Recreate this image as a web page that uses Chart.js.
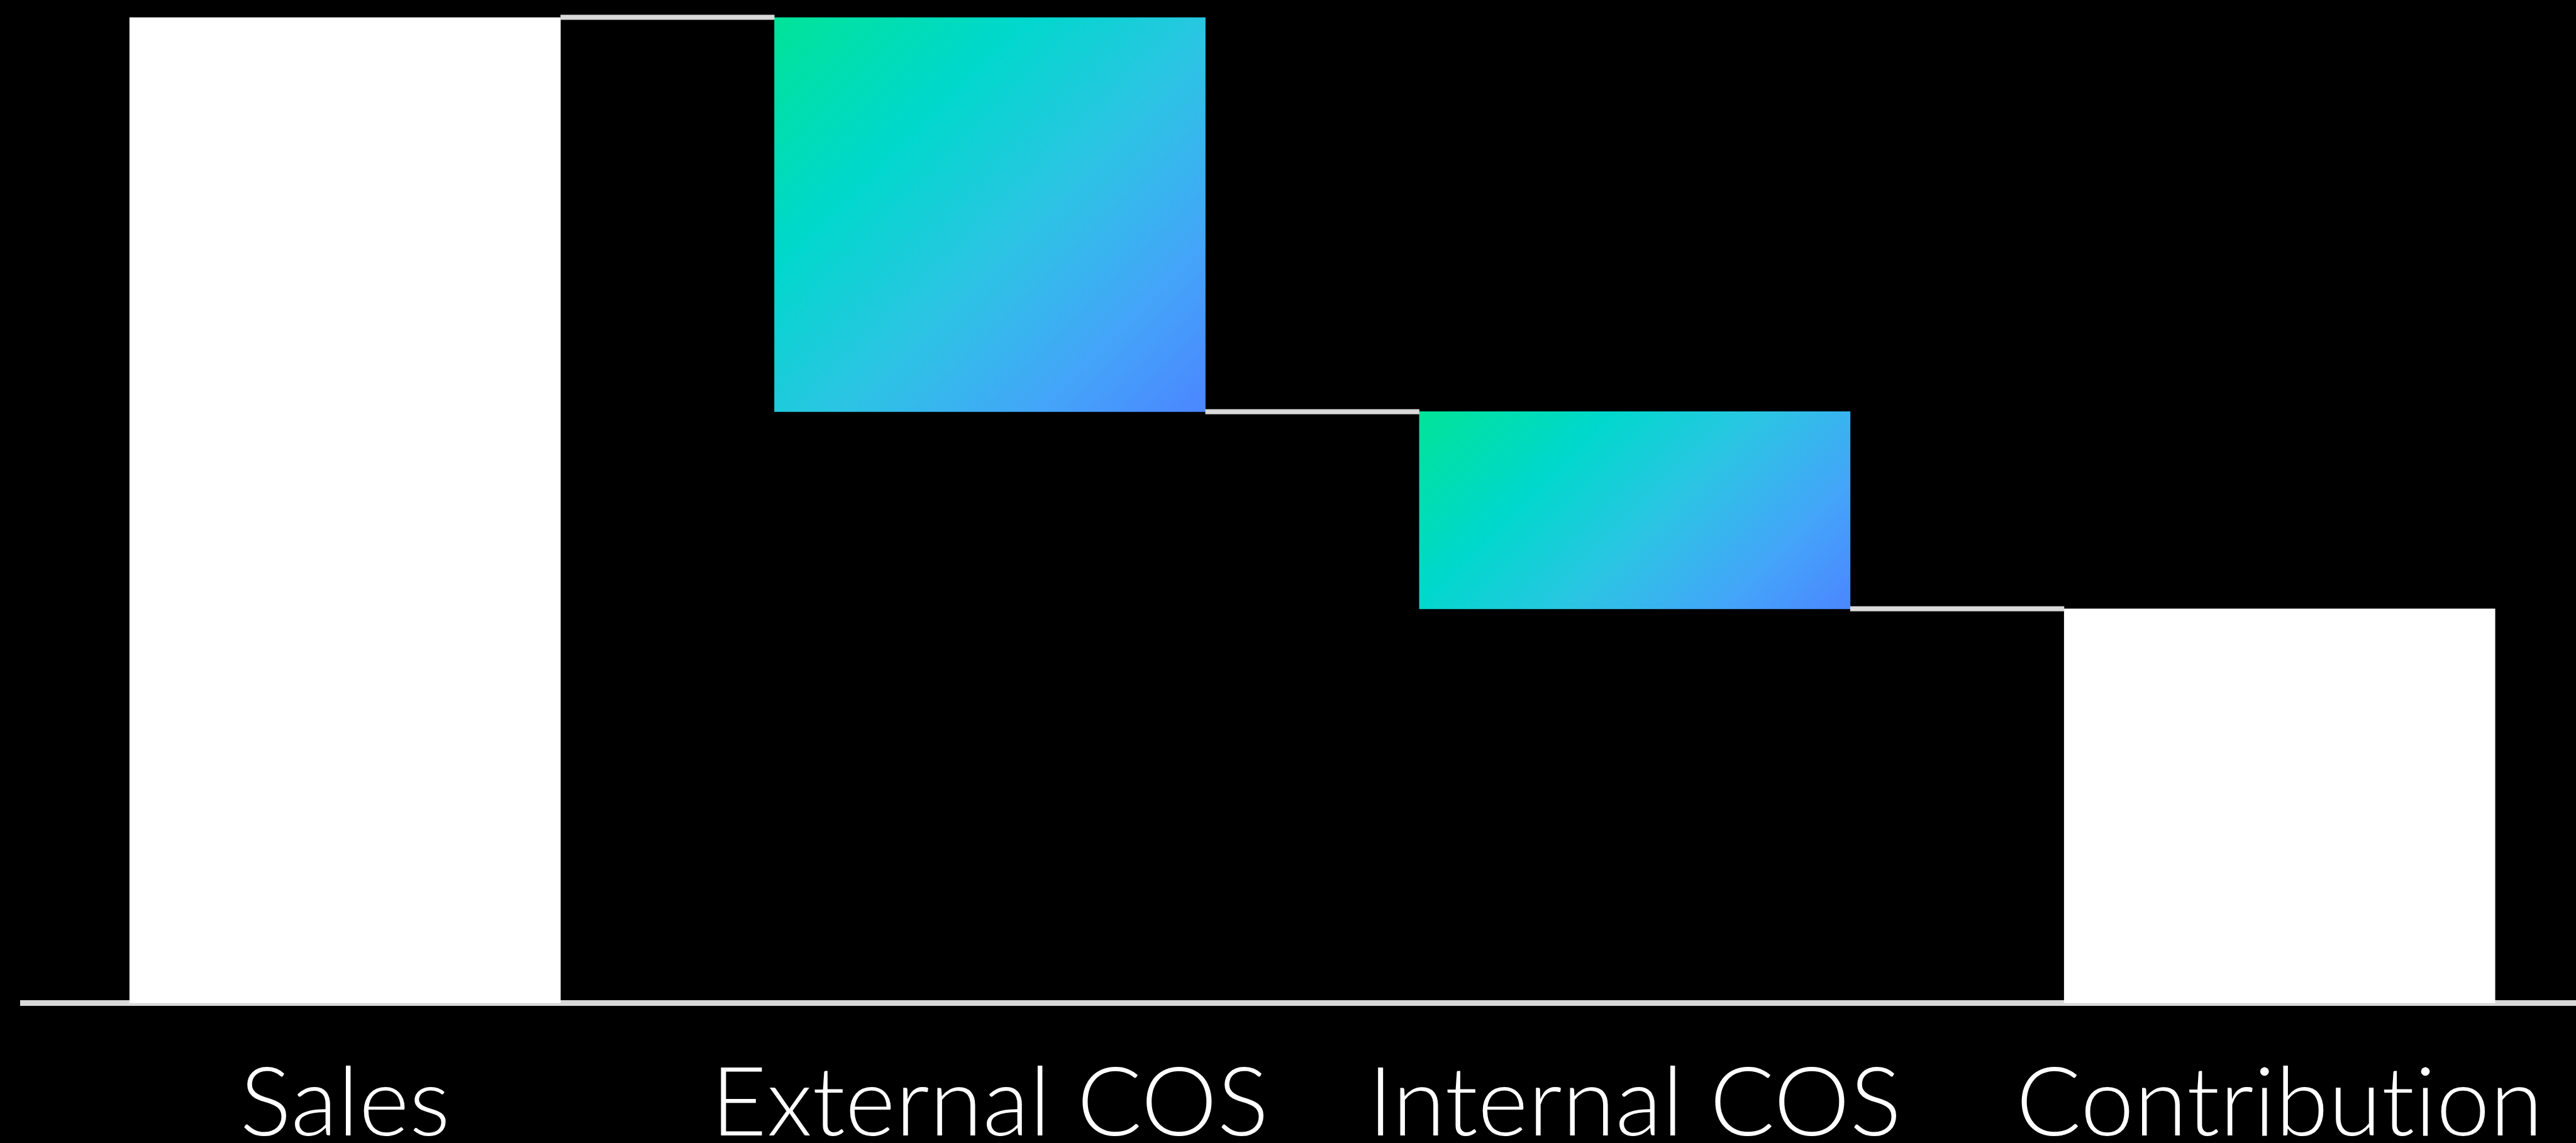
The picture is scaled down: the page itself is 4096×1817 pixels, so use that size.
<!DOCTYPE html>
<html>
<head>
<meta charset="utf-8">
<script src="https://cdn.jsdelivr.net/npm/chart.js@4.4.1/dist/chart.umd.min.js"></script>
<style>
  html, body { margin: 0; padding: 0; background: #000; overflow: hidden; }
  #wrap { position: absolute; left: 0; top: 0; width: 4140px; height: 1817px; }
</style>
</head>
<body>
<div id="wrap"><canvas id="chart"></canvas></div>
<script>
// data
const categories = ["Sales", "External COS", "Internal COS", "Contribution"];
const changes    = [100, -40, -20, 40];
const isTotal    = [true, false, false, true];

// gradient stops for the cost bars
const gradStops = [
  [0.00, "#00e398"],
  [0.30, "#00d8cc"],
  [0.55, "#2bc5e3"],
  [0.80, "#44a4f9"],
  [1.00, "#4b86ff"]
];

const BAR_W = 685;
const LINE_COLOR = "#d9d9d9";

// floating ranges from running totals
let running = 0;
const ranges = changes.map((v, i) => {
  if (isTotal[i]) { running = v; return [0, v]; }
  const start = running;
  running += v;
  return [Math.min(start, running), Math.max(start, running)];
});
const levels = []; // level after each bar, for connectors
running = 0;
changes.forEach((v, i) => { running = isTotal[i] ? v : running + v; levels.push(running); });

function barFill(ctx) {
  const i = ctx.dataIndex;
  if (isTotal[i]) return "#ffffff";
  const chart = ctx.chart;
  const xs = chart.scales.x, ys = chart.scales.y;
  if (!xs || !ys || !chart.chartArea) return gradStops[1][1];
  const cx = xs.getPixelForValue(i);
  const left = cx - BAR_W / 2;
  const top = ys.getPixelForValue(ranges[i][1]);
  const bottom = ys.getPixelForValue(ranges[i][0]);
  const d = (BAR_W + (bottom - top)) / 2;
  const g = chart.ctx.createLinearGradient(left, top, left + d, top + d);
  gradStops.forEach(s => g.addColorStop(s[0], s[1]));
  return g;
}

// no ligatures in the labels
const noLigatures = {
  id: "noLigatures",
  beforeDraw(chart) {
    chart.ctx.letterSpacing = "0.2px";
  }
};

// connector lines between bars
const connectors = {
  id: "connectors",
  afterDatasetsDraw(chart) {
    const meta = chart.getDatasetMeta(0);
    const ys = chart.scales.y;
    const c = chart.ctx;
    c.save();
    c.strokeStyle = LINE_COLOR;
    c.lineWidth = 8;
    for (let i = 0; i < meta.data.length - 1; i++) {
      const a = meta.data[i], b = meta.data[i + 1];
      const y = ys.getPixelForValue(levels[i]);
      c.beginPath();
      c.moveTo(a.x + a.width / 2, y);
      c.lineTo(b.x - b.width / 2, y);
      c.stroke();
    }
    c.restore();
  }
};

new Chart(document.getElementById("chart"), {
  type: "bar",
  data: {
    labels: categories,
    datasets: [{
      data: ranges,
      backgroundColor: barFill,
      borderWidth: 0,
      barThickness: BAR_W
    }]
  },
  options: {
    responsive: true,
    maintainAspectRatio: false,
    animation: false,
    devicePixelRatio: 1,
    layout: { padding: { left: 36, right: 2.6, top: 27.6, bottom: 0 } },
    plugins: { legend: { display: false }, tooltip: { enabled: false } },
    scales: {
      x: {
        z: 1,
        grid: { display: false, drawTicks: false },
        border: { display: true, color: LINE_COLOR, width: 9 },
        ticks: {
          color: "#ffffff",
          padding: 69,
          maxRotation: 0,
          autoSkip: false,
          font: { family: "Lato", weight: 300, size: 153 }
        },
        afterFit: s => { s.height = 222.4; }
      },
      y: {
        display: false,
        min: 0,
        max: 100
      }
    }
  },
  plugins: [noLigatures, connectors]
});
</script>
</body>
</html>
